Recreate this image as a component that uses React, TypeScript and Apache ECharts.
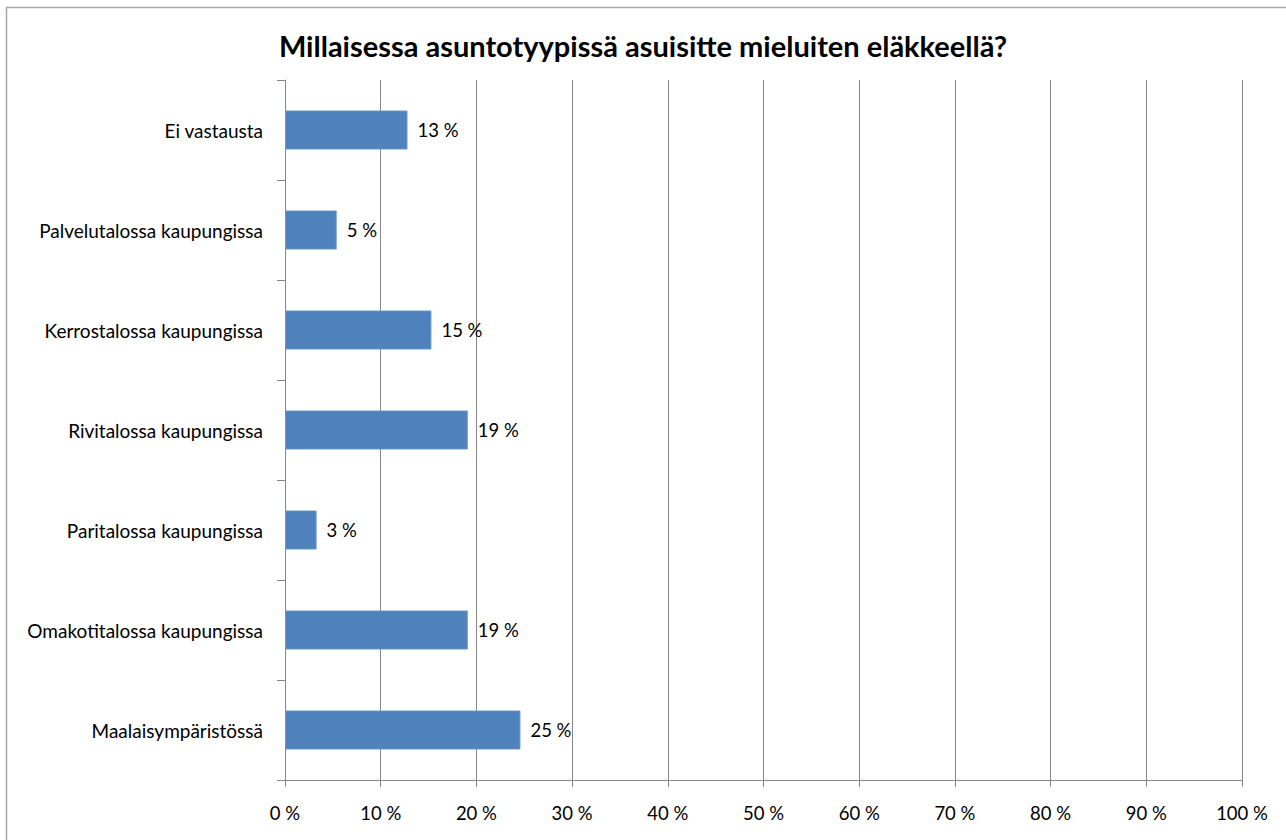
import React, { useEffect, useRef } from "react";
import * as echarts from "echarts";

const categories = [
  "Ei vastausta",
  "Palvelutalossa kaupungissa",
  "Kerrostalossa kaupungissa",
  "Rivitalossa kaupungissa",
  "Paritalossa kaupungissa",
  "Omakotitalossa kaupungissa",
  "Maalaisympäristössä",
];
const values = [12.8, 5.4, 15.3, 19.1, 3.3, 19.1, 24.6];
const titleText = "Millaisessa asuntotyypissä asuisitte mieluiten eläkkeellä?";

const FONT = "Lato, 'Open Sans', sans-serif";

export default function App() {
  const ref = useRef<HTMLDivElement>(null);
  useEffect(() => {
    if (!ref.current) return;
    const chart = echarts.init(ref.current, null, { renderer: "svg" });
    chart.setOption({
      animation: false,
      backgroundColor: "#ffffff",
      title: {
        text: titleText,
        left: "center",
        top: 26,
        textStyle: { fontFamily: FONT, fontSize: 29, fontWeight: "bold", color: "#000" },
      },
      graphic: [
        {
          type: "rect",
          shape: { x: 6.5, y: 7.5, width: 1300, height: 860 },
          style: { fill: "none", stroke: "#a8a8a8", lineWidth: 1.5 },
          silent: true,
        },
      ],
      grid: { left: 285, right: 44, top: 80, bottom: 60, containLabel: false },
      xAxis: {
        type: "value",
        min: 0,
        max: 100,
        interval: 10,
        axisLine: { show: true, lineStyle: { color: "#868686", width: 1 } },
        axisTick: { show: true, length: 7, lineStyle: { color: "#868686" } },
        splitLine: { show: true, lineStyle: { color: "#868686", width: 1 } },
        axisLabel: {
          formatter: "{value} %",
          fontFamily: FONT,
          fontSize: 18.5,
          color: "#000",
          margin: 23,
        },
      },
      yAxis: {
        type: "category",
        data: categories,
        inverse: true,
        axisLine: { show: true, lineStyle: { color: "#868686", width: 1 } },
        axisTick: { show: true, length: 8, lineStyle: { color: "#868686" } },
        axisLabel: { fontFamily: FONT, fontSize: 19, color: "#000", margin: 22 },
      },
      series: [
        {
          type: "bar",
          data: values,
          barWidth: "39%",
          itemStyle: { color: "#4f81bd", borderColor: "#6a95c8", borderWidth: 1 },
          label: {
            show: true,
            position: "right",
            distance: 10,
            formatter: (p: any) => Math.round(p.value) + " %",
            fontFamily: FONT,
            fontSize: 18.5,
            color: "#000",
          },
        },
      ],
    });
    return () => chart.dispose();
  }, []);
  return (
    <div
      ref={ref}
      style={{ position: "fixed", left: 0, top: 0, width: 1286, height: 840 }}
    />
  );
}
